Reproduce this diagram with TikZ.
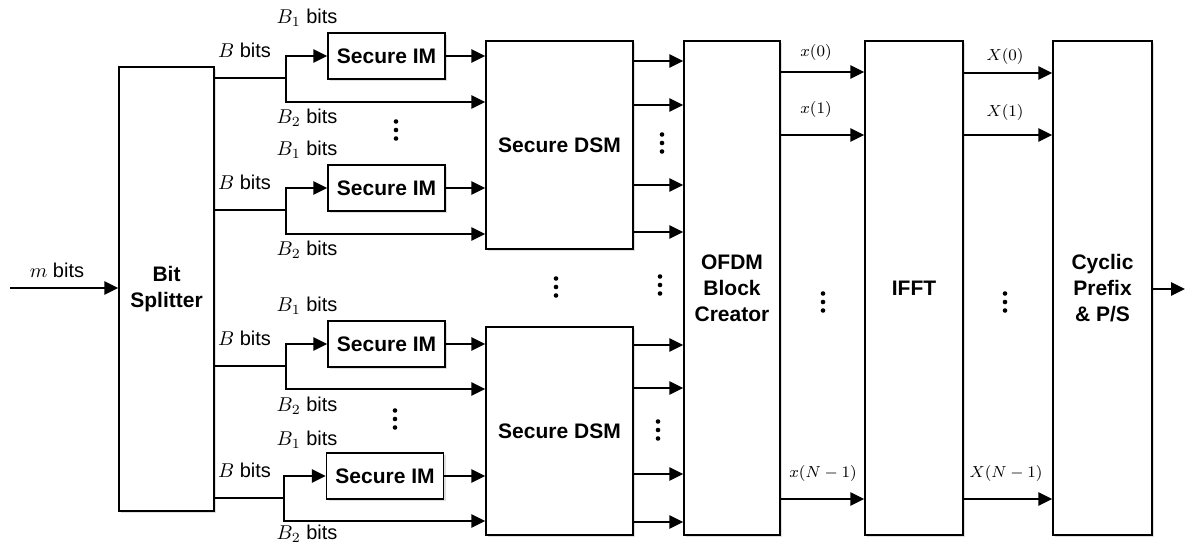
\documentclass[tikz,border=0pt]{standalone}
\usepackage{amsmath}
\usepackage{fontspec}
\setmainfont{Liberation Sans}
\usepackage{tikz}
\usetikzlibrary{arrows.meta, positioning, shadows}

\begin{document}
\begin{tikzpicture}[
    x=0.5pt, y=-0.5pt,
    >={Triangle[length=7pt, width=6.5pt]},
    blk/.style={draw, line width=0.7pt, fill=white, inner sep=0pt, align=center, font=\fontsize{10.5}{13}\selectfont\bfseries, drop shadow={shadow xshift=1.2pt, shadow yshift=-1.2pt, opacity=0.25}},
    imbox/.style={blk, minimum width=58.5pt, minimum height=23pt},
    dsmbox/.style={blk, minimum width=73.5pt, minimum height=104pt},
    tallbox/.style={blk, minimum height=247pt},
    sig/.style={->, line width=1.4pt},
    wire/.style={line width=1.4pt},
    lbl/.style={font=\fontsize{10}{12}\selectfont, inner sep=0pt},
    idx/.style={font=\fontsize{8.5}{10}\selectfont, inner sep=0pt},
    vdts/.pic={\fill (0,-8.5) circle (1.15pt) (0,0) circle (1.15pt) (0,8.5) circle (1.15pt);},
]
    \useasboundingbox (0,0) rectangle (1186,545);

    % Bit splitter and input
    \node[blk, minimum width=47.5pt, minimum height=222pt] (split) at (166.5,289) {Bit\\Splitter};
    \coordinate (in) at (10,288);
    \draw[sig] (in) -- (split.west |- in);
    \node[lbl] (mlbl) at (57,270) {$m$ bits};

    % Secure IM and DSM blocks
    \node[imbox] (im1) at (386.5,56) {Secure IM};
    \node[imbox] (im2) at (386.5,188) {Secure IM};
    \node[imbox] (im3) at (386.5,344) {Secure IM};
    \node[imbox] (im4) at (385,476) {Secure IM};
    \node[dsmbox] (dsm1) at (559.5,145) {Secure DSM};
    \node[dsmbox] (dsm2) at (559.5,431) {Secure DSM};

    % Branches from the splitter
    \coordinate (b1) at (286,78);  \coordinate (c1) at (286,102);
    \coordinate (b2) at (286,210); \coordinate (c2) at (286,234);
    \coordinate (b3) at (286,366); \coordinate (c3) at (286,389);
    \coordinate (b4) at (284,498); \coordinate (c4) at (284,521);

    \draw[wire] (split.east |- b1) -- (b1);
    \draw[<->, wire] (dsm1.west |- c1) -- (c1) |- (im1.west);
    \draw[wire] (split.east |- b2) -- (b2);
    \draw[<->, wire] (dsm1.west |- c2) -- (c2) |- (im2.west);
    \draw[wire] (split.east |- b3) -- (b3);
    \draw[<->, wire] (dsm2.west |- c3) -- (c3) |- (im3.west);
    \draw[wire] (split.east |- b4) -- (b4);
    \draw[<->, wire] (dsm2.west |- c4) -- (c4) |- (im4.west);

    \draw[sig] (im1) -- (dsm1.west |- im1);
    \draw[sig] (im2) -- (dsm1.west |- im2);
    \draw[sig] (im3) -- (dsm2.west |- im3);
    \draw[sig] (im4) -- (dsm2.west |- im4);

    \node[lbl] at (244.5,50) {$B$ bits};
    \node[lbl] at (307,18) {$B_1$ bits};
    \node[lbl] at (307,118) {$B_2$ bits};
    \node[lbl] at (244.5,182) {$B$ bits};
    \node[lbl] at (307,150) {$B_1$ bits};
    \node[lbl] at (307,250) {$B_2$ bits};
    \node[lbl] at (244.5,338) {$B$ bits};
    \node[lbl] at (307,306) {$B_1$ bits};
    \node[lbl] at (307,406) {$B_2$ bits};
    \node[lbl] at (244.5,470) {$B$ bits};
    \node[lbl] at (307,440) {$B_1$ bits};
    \node[lbl] at (307,534) {$B_2$ bits};

    % OFDM, IFFT, CP
    \node[tallbox, minimum width=48pt] (ofdm) at (732,288) {OFDM\\Block\\Creator};
    \node[tallbox, minimum width=49pt] (ifft) at (914,288) {IFFT};
    \node[tallbox, minimum width=49.5pt] (cp) at (1102.5,288) {Cyclic\\Prefix\\\& P/S};

    \draw[sig] (dsm1.east |- 0,61) -- (ofdm.west |- 0,61);
    \draw[sig] (dsm1.east |- 0,105) -- (ofdm.west |- 0,105);
    \draw[sig] (dsm1.east |- 0,185) -- (ofdm.west |- 0,185);
    \draw[sig] (dsm1.east |- 0,232) -- (ofdm.west |- 0,232);
    \draw[sig] (dsm2.east |- 0,345) -- (ofdm.west |- 0,345);
    \draw[sig] (dsm2.east |- 0,388) -- (ofdm.west |- 0,388);
    \draw[sig] (dsm2.east |- 0,474) -- (ofdm.west |- 0,474);
    \draw[sig] (dsm2.east |- 0,522) -- (ofdm.west |- 0,522);

    \draw[sig] (ofdm.east |- 0,72) -- (ifft.west |- 0,72);
    \draw[sig] (ofdm.east |- 0,135) -- (ifft.west |- 0,135);
    \draw[sig] (ofdm.east |- 0,499) -- (ifft.west |- 0,499);
    \node[idx] at (816,53) {$x(0)$};
    \node[idx] at (816,110) {$x(1)$};
    \node[idx] at (823,473) {$x(N-1)$};

    \draw[sig] (ifft.east |- 0,73) -- (cp.west |- 0,73);
    \draw[sig] (ifft.east |- 0,135) -- (cp.west |- 0,135);
    \draw[sig] (ifft.east |- 0,499) -- (cp.west |- 0,499);
    \node[idx] at (1005,57) {$X(0)$};
    \node[idx] at (1005,113) {$X(1)$};
    \node[idx] at (1006,473) {$X(N-1)$};

    \coordinate (out) at (1185,289);
    \draw[sig] (cp.east |- out) -- (out);

    % Dots
    \pic at (396,130) {vdts};
    \pic at (395,419) {vdts};
    \pic at (662,143) {vdts};
    \pic at (658,430) {vdts};
    \pic at (556,287) {vdts};
    \pic at (660,285) {vdts};
    \pic at (823,302) {vdts};
    \pic at (1005,302) {vdts};
\end{tikzpicture}
\end{document}
